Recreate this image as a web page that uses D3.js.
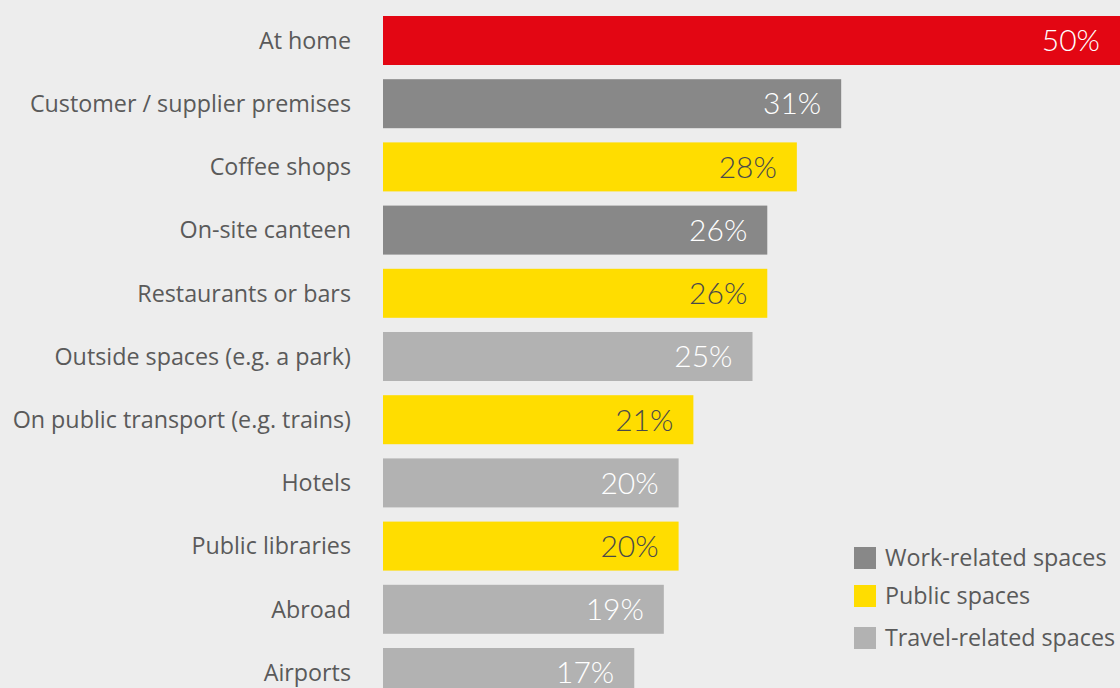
<!DOCTYPE html>
<html>
<head>
<meta charset="utf-8">
<script src="https://cdn.jsdelivr.net/npm/d3@7"></script>
<style>
  html, body { margin: 0; padding: 0; background: #ededed; }
  svg { display: block; font-family: "Open Sans", Lato, sans-serif; }
</style>
</head>
<body>
<svg id="chart" width="1120" height="688"></svg>
<script>
// Where people work, share of respondents (%)
const categories = [
  "At home",
  "Customer / supplier premises",
  "Coffee shops",
  "On-site canteen",
  "Restaurants or bars",
  "Outside spaces (e.g. a park)",
  "On public transport (e.g. trains)",
  "Hotels",
  "Public libraries",
  "Abroad",
  "Airports"
];
const values = [50, 31, 28, 26, 26, 25, 21, 20, 20, 19, 17];
const groups = ["home", "work", "public", "work", "public", "travel", "public", "travel", "public", "travel", "travel"];

const legendLabels = ["Work-related spaces", "Public spaces", "Travel-related spaces"];
const legendKeys = ["work", "public", "travel"];

const fillColor = { home: "#e30613", work: "#888888", public: "#ffdd00", travel: "#b2b2b2" };
const textColor = { home: "#ffffff", work: "#ffffff", public: "#4a4a4a", travel: "#ffffff" };

const rows = categories.map((c, i) => ({ cat: c, value: values[i], group: groups[i] }));

const svg = d3.select("#chart");

const x = d3.scaleLinear().domain([0, 50]).range([383, 383 + 739]);
const y = d3.scaleBand().domain(categories).range([16, 697]).paddingInner(0.2247).paddingOuter(0);

// Category labels on the left
svg.append("g")
  .selectAll("text")
  .data(rows)
  .join("text")
  .attr("x", 351)
  .attr("y", d => y(d.cat) + y.bandwidth() / 2)
  .attr("dy", "0.36em")
  .attr("text-anchor", "end")
  .attr("font-size", 23.3)
  .attr("fill", "#5a5a5a")
  .text(d => d.cat);

// Bars
svg.append("g")
  .selectAll("rect")
  .data(rows)
  .join("rect")
  .attr("x", x(0))
  .attr("y", d => y(d.cat))
  .attr("width", d => x(d.value) - x(0))
  .attr("height", y.bandwidth())
  .attr("fill", d => fillColor[d.group]);

// Value labels inside bar ends
svg.append("g")
  .selectAll("text")
  .data(rows)
  .join("text")
  .attr("x", d => Math.min(x(d.value), 1120) - 20)
  .attr("y", d => y(d.cat) + y.bandwidth() / 2)
  .attr("dy", "0.36em")
  .attr("text-anchor", "end")
  .attr("font-family", "Lato, sans-serif")
  .attr("font-size", 30)
  .attr("font-weight", 300)
  .attr("fill", d => textColor[d.group])
  .text(d => d.value + "%");

// Legend
const legendY = [547, 585, 627];
const lg = svg.append("g")
  .selectAll("g")
  .data(legendKeys)
  .join("g")
  .attr("transform", (d, i) => `translate(854,${legendY[i]})`);

lg.append("rect")
  .attr("width", 22)
  .attr("height", 22)
  .attr("fill", d => fillColor[d]);

lg.append("text")
  .attr("x", 31)
  .attr("y", 11)
  .attr("dy", "0.36em")
  .attr("font-size", 23.3)
  .attr("fill", "#5a5a5a")
  .text((d, i) => legendLabels[i]);
</script>
</body>
</html>
